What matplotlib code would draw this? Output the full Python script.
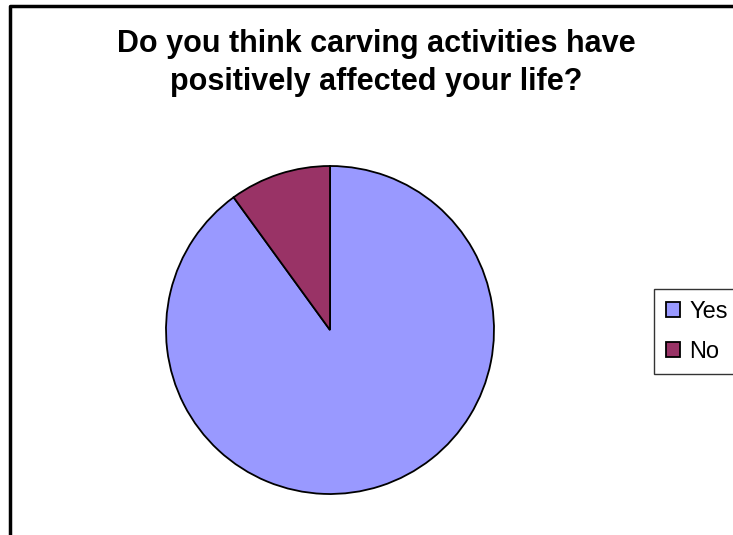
import matplotlib.pyplot as plt
from matplotlib.lines import Line2D

plt.rcParams['font.family'] = ['Liberation Sans', 'DejaVu Sans']

labels = ['Yes', 'No']
values = [90, 10]
colors = ['#9999FF', '#993366']

fig = plt.figure(figsize=(7.33, 5.35), dpi=100)
W, H = 733, 535

# chart frame (right and bottom edges fall outside the picture)
fig.add_artist(Line2D([10 / W, 10 / W, 1.01], [-0.01, 1 - 6 / H, 1 - 6 / H],
                      transform=fig.transFigure, color='black', lw=2.5))

fig.text(376 / W, 1 - 63 / H, 'Do you think carving activities have\npositively affected your life?',
         ha='center', va='center', fontsize=22, fontweight='bold', linespacing=1.35)

r = 164
ax = fig.add_axes([(330 - r) / W, (535 - 330 - r) / H, 2 * r / W, 2 * r / H])
ax.pie(values, colors=colors, startangle=90, counterclock=False,
       wedgeprops=dict(edgecolor='black', linewidth=1.3))
ax.set_aspect('auto')
ax.set_xlim(-1, 1)
ax.set_ylim(-1, 1)

leg = fig.legend(ax.patches, labels, loc='upper left',
                 bbox_to_anchor=(654 / W, (535 - 372) / H, 100 / W, 83 / H),
                 mode='expand', fontsize=17, frameon=True, fancybox=False,
                 edgecolor='black', handlelength=0.6, handleheight=0.6,
                 handletextpad=0.4, labelspacing=0.75, borderpad=0.5, borderaxespad=0)
leg.get_frame().set_linewidth(1.0)

fig.savefig('out.png', dpi=100)
